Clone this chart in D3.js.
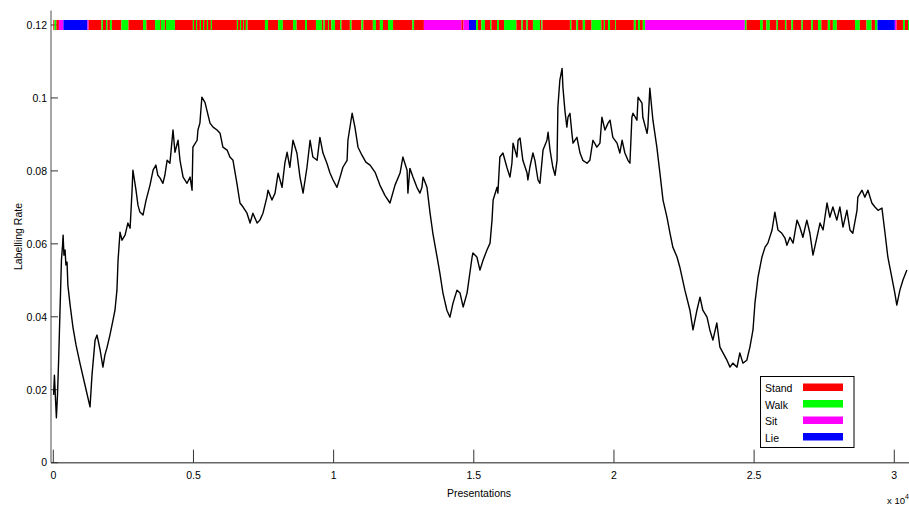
<!DOCTYPE html>
<html>
<head>
<meta charset="utf-8">
<script src="https://cdn.jsdelivr.net/npm/d3@7/dist/d3.min.js"></script>
<style>
  html, body { margin: 0; padding: 0; background: #fff; }
  svg { display: block; }
  text { font-family: "Liberation Sans", Arial, sans-serif; fill: #000; }
</style>
</head>
<body>
<svg id="chart" width="909" height="507"></svg>
<script>
// ---- data ----
const presentations = [10,40,80,110,150,190,220,260,290,330,350,380,420,450,490,520,600,700,810,950,1130,1310,1380,1490,1560,1670,1770,1840,1920,2020,2130,2200,2270,2310,2380,2450,2560,2660,2740,2810,2840,2950,3020,3090,3200,3310,3450,3560,3660,3730,3810,3910,3980,4060,4160,4270,4340,4450,4520,4630,4770,4880,4950,4980,5130,5160,5230,5300,5410,5480,5590,5700,5840,5950,6050,6200,6300,6410,6550,6660,6770,6910,7020,7120,7270,7370,7480,7620,7660,7800,7910,8020,8160,8260,8340,8440,8550,8690,8800,8910,9050,9160,9260,9410,9510,9620,9760,9870,9980,10120,10230,10330,10480,10510,10660,10760,10870,11010,11150,11300,11480,11650,11830,12010,12190,12370,12470,12620,12650,12720,12830,12970,13080,13150,13190,13330,13440,13540,13690,13790,13900,14040,14150,14260,14400,14510,14620,14760,14860,14940,14970,15110,15220,15330,15470,15580,15650,15690,15830,15860,15930,16040,16180,16290,16360,16400,16540,16580,16650,16750,16900,16930,17000,17110,17180,17290,17360,17470,17610,17650,17720,17820,17900,17970,18000,18070,18150,18180,18250,18320,18360,18430,18500,18540,18680,18790,18890,19040,19140,19250,19390,19500,19570,19680,19790,19860,19960,20110,20210,20290,20390,20500,20570,20640,20680,20820,20860,21000,21030,21180,21210,21280,21390,21530,21640,21750,21890,22000,22100,22250,22350,22530,22710,22820,22960,23070,23170,23320,23420,23530,23670,23780,23890,24030,24140,24240,24390,24490,24600,24740,24850,24960,25030,25140,25280,25390,25490,25640,25740,25850,25990,26100,26170,26280,26390,26530,26630,26740,26880,26990,27100,27240,27350,27460,27600,27700,27810,27950,28060,28170,28310,28420,28520,28670,28700,28850,28950,29060,29200,29310,29420,29560,29670,29770,29910,30020,30090,30200,30310,30450];
const rates = [0.0186,0.0240,0.0172,0.0123,0.0186,0.0281,0.0364,0.0473,0.0555,0.0596,0.0624,0.0569,0.0583,0.0542,0.0550,0.0487,0.0432,0.0372,0.0323,0.0273,0.0213,0.0153,0.0240,0.0336,0.0350,0.0309,0.0262,0.0295,0.0317,0.0350,0.0391,0.0418,0.0473,0.0555,0.0632,0.0610,0.0624,0.0657,0.0643,0.0747,0.0802,0.0747,0.0706,0.0687,0.0679,0.0720,0.0761,0.0802,0.0816,0.0788,0.0780,0.0766,0.0788,0.0829,0.0821,0.0912,0.0851,0.0884,0.0829,0.0783,0.0766,0.0783,0.0747,0.0865,0.0884,0.0912,0.0931,0.1002,0.0988,0.0966,0.0931,0.0920,0.0912,0.0903,0.0865,0.0857,0.0838,0.0829,0.0766,0.0712,0.0701,0.0684,0.0657,0.0684,0.0657,0.0665,0.0684,0.0728,0.0747,0.0720,0.0739,0.0794,0.0755,0.0821,0.0851,0.0810,0.0884,0.0849,0.0783,0.0739,0.0810,0.0884,0.0838,0.0829,0.0892,0.0849,0.0821,0.0794,0.0775,0.0755,0.0783,0.0810,0.0829,0.0884,0.0958,0.0920,0.0865,0.0843,0.0824,0.0816,0.0796,0.0761,0.0733,0.0712,0.0761,0.0794,0.0838,0.0802,0.0739,0.0807,0.0783,0.0755,0.0739,0.0755,0.0783,0.0755,0.0684,0.0629,0.0564,0.0520,0.0465,0.0418,0.0399,0.0438,0.0473,0.0465,0.0427,0.0465,0.0520,0.0564,0.0575,0.0564,0.0528,0.0555,0.0583,0.0602,0.0665,0.0720,0.0755,0.0739,0.0838,0.0849,0.0810,0.0783,0.0821,0.0876,0.0838,0.0884,0.0890,0.0829,0.0794,0.0775,0.0810,0.0849,0.0829,0.0775,0.0766,0.0857,0.0884,0.0906,0.0857,0.0810,0.0788,0.0829,0.0975,0.1049,0.1081,0.1029,0.0966,0.0920,0.0947,0.0958,0.0903,0.0876,0.0892,0.0849,0.0829,0.0821,0.0829,0.0884,0.0865,0.0876,0.0947,0.0912,0.0931,0.0939,0.0892,0.0876,0.0849,0.0884,0.0849,0.0829,0.0821,0.0947,0.0958,0.0939,0.1002,0.0986,0.0947,0.0903,0.0920,0.1027,0.0939,0.0865,0.0794,0.0720,0.0673,0.0629,0.0591,0.0564,0.0536,0.0473,0.0418,0.0364,0.0418,0.0454,0.0418,0.0399,0.0364,0.0336,0.0383,0.0317,0.0301,0.0281,0.0262,0.0273,0.0262,0.0301,0.0273,0.0281,0.0317,0.0364,0.0438,0.0509,0.0564,0.0591,0.0602,0.0638,0.0687,0.0638,0.0629,0.0616,0.0596,0.0618,0.0602,0.0665,0.0646,0.0618,0.0665,0.0629,0.0569,0.0618,0.0657,0.0638,0.0712,0.0673,0.0701,0.0665,0.0701,0.0646,0.0692,0.0638,0.0629,0.0692,0.0728,0.0747,0.0728,0.0747,0.0712,0.0701,0.0692,0.0698,0.0629,0.0564,0.0509,0.0465,0.0432,0.0473,0.0501,0.0528];

// activity label bar: [segment start (presentations), class]
const activitySegments = [
  [0,"Stand"],[40,"Walk"],[110,"Stand"],[200,"Sit"],[360,"Lie"],[1220,"Sit"],[1260,"Stand"],
  [1720,"Walk"],[1770,"Stand"],[1880,"Walk"],[1930,"Stand"],[2020,"Walk"],[2090,"Stand"],
  [2430,"Walk"],[2680,"Stand"],[3200,"Walk"],[3320,"Stand"],[3630,"Walk"],[3810,"Stand"],
  [3840,"Walk"],[3980,"Stand"],[4020,"Walk"],[4340,"Stand"],[4980,"Walk"],[5020,"Stand"],
  [5090,"Walk"],[5130,"Stand"],[5230,"Walk"],[5270,"Stand"],[5340,"Walk"],[5380,"Stand"],
  [5480,"Walk"],[5520,"Stand"],[5620,"Walk"],[5660,"Stand"],[6550,"Walk"],[6590,"Stand"],
  [6660,"Walk"],[6700,"Stand"],[6770,"Walk"],[6800,"Stand"],[6870,"Walk"],[6930,"Stand"],
  [7550,"Walk"],[7660,"Stand"],[8020,"Walk"],[8190,"Stand"],[8550,"Walk"],[8680,"Stand"],
  [8980,"Walk"],[9050,"Stand"],[9370,"Walk"],[9580,"Stand"],[9640,"Walk"],[9690,"Stand"],
  [9800,"Walk"],[9830,"Stand"],[9920,"Walk"],[10050,"Stand"],[10230,"Walk"],[10280,"Stand"],
  [10580,"Walk"],[10640,"Stand"],[10990,"Walk"],[11060,"Stand"],[11400,"Walk"],[11510,"Stand"],
  [11650,"Walk"],[11760,"Stand"],[11940,"Walk"],[12120,"Stand"],[12810,"Walk"],[12870,"Stand"],
  [13220,"Sit"],[14560,"Stand"],[14630,"Sit"],[14830,"Lie"],[15080,"Walk"],[15150,"Stand"],
  [15270,"Walk"],[15400,"Stand"],[15580,"Walk"],[15630,"Stand"],[15830,"Walk"],[15900,"Stand"],
  [16080,"Walk"],[16520,"Stand"],[16700,"Walk"],[16750,"Stand"],[16880,"Walk"],[16930,"Stand"],
  [17110,"Walk"],[17360,"Stand"],[17410,"Walk"],[17450,"Stand"],[18430,"Walk"],[18480,"Stand"],
  [18660,"Walk"],[18720,"Stand"],[18890,"Walk"],[18970,"Stand"],[19200,"Walk"],[19550,"Stand"],
  [19640,"Walk"],[19680,"Stand"],[19790,"Walk"],[19860,"Stand"],[20040,"Walk"],[20070,"Stand"],
  [20710,"Walk"],[20780,"Stand"],[20860,"Walk"],[20930,"Stand"],[21030,"Walk"],[21110,"Sit"],
  [24670,"Walk"],[24730,"Stand"],[25210,"Walk"],[25310,"Stand"],[25440,"Walk"],[25560,"Stand"],
  [25800,"Walk"],[25850,"Stand"],[26100,"Walk"],[26150,"Stand"],[26330,"Walk"],[26390,"Stand"],
  [26690,"Walk"],[26740,"Stand"],[27040,"Walk"],[27100,"Stand"],[27280,"Walk"],[27400,"Stand"],
  [27630,"Walk"],[27710,"Stand"],[27810,"Walk"],[27950,"Stand"],[28600,"Walk"],[28770,"Stand"],
  [29010,"Walk"],[29190,"Stand"],[29310,"Walk"],[29400,"Lie"],[30020,"Sit"],[30080,"Stand"],
  [30310,"Walk"],[30380,"Stand"],[30490,"Walk"]
];
const activityEnd = 30530;

const classes = ["Stand", "Walk", "Sit", "Lie"];
const yTicks = [0, 0.02, 0.04, 0.06, 0.08, 0.1, 0.12];
const yTickLabels = ["0", "0.02", "0.04", "0.06", "0.08", "0.1", "0.12"];
const xTicks = [0, 5000, 10000, 15000, 20000, 25000, 30000];
const xTickLabels = ["0", "0.5", "1", "1.5", "2", "2.5", "3"];
const xTitle = "Presentations";
const yTitle = "Labelling Rate";
const barLevel = 0.12;

// ---- drawing ----
const svg = d3.select("#chart");
const x = d3.scaleLinear().domain([0, 30500]).range([53.3, 908.3]);
const y = d3.scaleLinear().domain([0, 0.124]).range([462.7, 10.4]);
const color = d3.scaleOrdinal().domain(classes).range(["#ff0000", "#00ff00", "#ff00ff", "#0000ff"]);

const axisX0 = 51, axisY0 = 462.7;

// axes lines
svg.append("line").attr("x1", axisX0).attr("x2", axisX0).attr("y1", y(0.124)).attr("y2", axisY0)
  .attr("stroke", "#888").attr("stroke-width", 1.5);
svg.append("line").attr("x1", axisX0).attr("x2", 909).attr("y1", axisY0).attr("y2", axisY0)
  .attr("stroke", "#666").attr("stroke-width", 1.5);

// y ticks & labels
const yg = svg.append("g");
yg.selectAll("line").data(yTicks).join("line")
  .attr("x1", axisX0).attr("x2", axisX0 + 7)
  .attr("y1", d => y(d)).attr("y2", d => y(d))
  .attr("stroke", "#333").attr("stroke-width", 1);
yg.selectAll("text").data(yTicks).join("text")
  .attr("x", 47).attr("y", d => y(d)).attr("dy", "0.36em")
  .attr("text-anchor", "end").attr("font-size", "10.5px")
  .text((d, i) => yTickLabels[i]);

// x ticks & labels
const xg = svg.append("g");
xg.selectAll("line").data(xTicks).join("line")
  .attr("x1", d => x(d)).attr("x2", d => x(d))
  .attr("y1", axisY0).attr("y2", axisY0 - 13)
  .attr("stroke", "#333").attr("stroke-width", 1);
xg.selectAll("text").data(xTicks).join("text")
  .attr("x", d => x(d)).attr("y", 479)
  .attr("text-anchor", "middle").attr("font-size", "10.5px")
  .text((d, i) => xTickLabels[i]);

// titles
svg.append("text").attr("x", 479).attr("y", 497).attr("text-anchor", "middle")
  .attr("font-size", "10.5px").text(xTitle);
svg.append("text").attr("transform", `translate(21.5,${(y(0.124) + axisY0) / 2}) rotate(-90)`)
  .attr("text-anchor", "middle").attr("font-size", "10.5px").text(yTitle);
const mult = svg.append("text").attr("x", 887).attr("y", 504).attr("font-size", "9.5px");
mult.append("tspan").text("x 10");
mult.append("tspan").attr("dy", -5).attr("font-size", "7px").text("4");

// activity bar
const segs = activitySegments.map((s, i) => ({
  s: s[0],
  e: i + 1 < activitySegments.length ? activitySegments[i + 1][0] : activityEnd,
  c: s[1]
}));
const by = y(barLevel);
svg.append("g").selectAll("rect").data(segs).join("rect")
  .attr("x", d => Math.max(51.5, x(d.s)))
  .attr("width", d => Math.min(909, x(d.e)) - Math.max(51.5, x(d.s)))
  .attr("y", by - 5).attr("height", 10)
  .attr("fill", d => color(d.c));

// line
const pts = presentations.map((p, i) => [p, rates[i]]);
svg.append("path").datum(pts)
  .attr("d", d3.line().x(d => x(d[0])).y(d => y(d[1])))
  .attr("fill", "none").attr("stroke", "#000").attr("stroke-width", 1.4)
  .attr("stroke-linejoin", "round");

// legend
const lg = svg.append("g");
lg.append("rect").attr("x", 760.5).attr("y", 376.5).attr("width", 93.5).attr("height", 71)
  .attr("fill", "#fff").attr("stroke", "#000").attr("stroke-width", 1);
classes.forEach((c, i) => {
  const yy = 392 + i * 16.5;
  lg.append("text").attr("x", 765).attr("y", yy).attr("font-size", "10.5px").text(c);
  lg.append("rect").attr("x", 803).attr("y", yy - 8.5).attr("width", 40).attr("height", 7.5)
    .attr("fill", color(c));
});
</script>
</body>
</html>
